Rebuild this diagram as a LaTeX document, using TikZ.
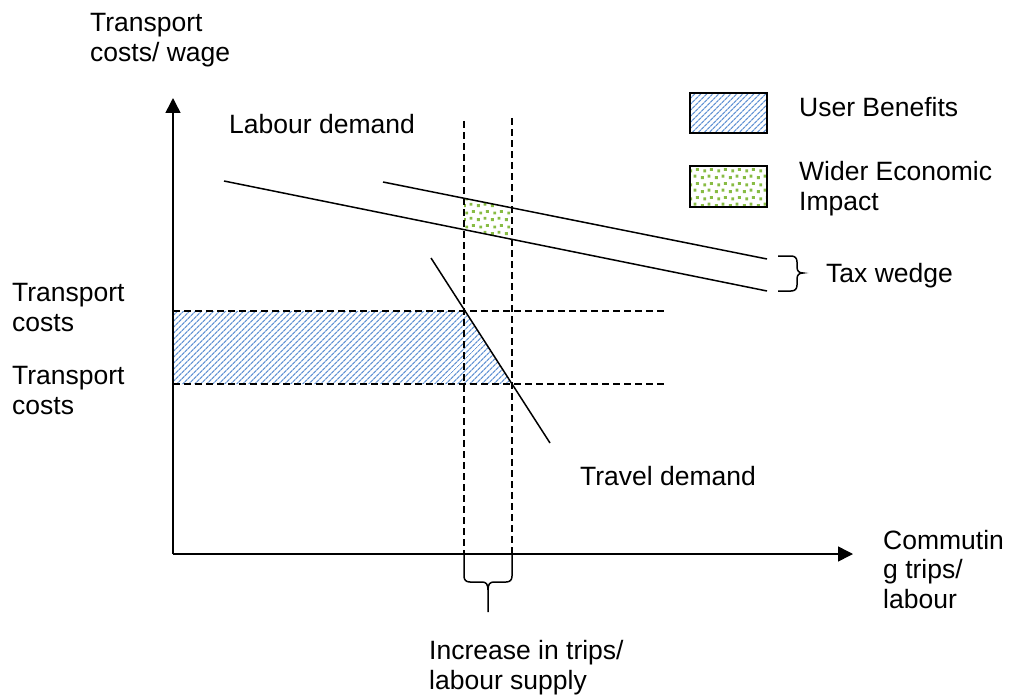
\documentclass[tikz,border=0pt]{standalone}
\usepackage{fontspec}
\setmainfont{Liberation Sans}
\usetikzlibrary{arrows.meta,patterns.meta}

\definecolor{hatchblue}{RGB}{100,148,212}
\definecolor{dotgreen}{RGB}{136,188,68}

% speckled fill for the wider economic impact area
\pgfdeclarepattern{
  name=greendots,
  type=uncolored,
  bottom left={\pgfpoint{0pt}{0pt}},
  top right={\pgfpoint{14pt}{14pt}},
  tile size={\pgfpoint{14pt}{14pt}},
  code={
    \pgfpathrectangle{\pgfpoint{1pt}{1pt}}{\pgfpoint{3pt}{3pt}}
    \pgfpathrectangle{\pgfpoint{8pt}{2.5pt}}{\pgfpoint{3pt}{3pt}}
    \pgfpathrectangle{\pgfpoint{3.5pt}{8pt}}{\pgfpoint{3pt}{3pt}}
    \pgfpathrectangle{\pgfpoint{10.5pt}{9.5pt}}{\pgfpoint{3pt}{3pt}}
    \pgfusepath{fill}
  }
}

\tikzset{
  lbl/.style={inner sep=0pt, anchor=base west, align=left,
    font=\fontsize{26.5}{29.5}\selectfont},
  curve/.style={line width=1.5pt},
  axis/.style={line width=1.5pt, -{Triangle[length=15pt,width=15pt]}},
  guide/.style={line width=1.3pt, dash pattern=on 7pt off 4pt},
  userben/.style={pattern={Lines[angle=45,distance=4pt,line width=1.3pt]},
    pattern color=hatchblue},
  wider/.style={pattern=greendots, pattern color=dotgreen},
  keybox/.style={line width=1.5pt},
  brace/.style={line width=1.5pt},
}

\begin{document}
\begin{tikzpicture}[x=1pt,y=-1pt]
\useasboundingbox (0,0) rectangle (1011,698);

% key points
\coordinate (O) at (173,554);
\coordinate (ytip) at (173,98);
\coordinate (xtip) at (853,554);
\coordinate (ldA) at (224,181);
\coordinate (ldB) at (767,291);
\coordinate (lsA) at (383,182);
\coordinate (lsB) at (767,259);
\coordinate (tdA) at (431,258);
\coordinate (tdB) at (550,443);
\coordinate (v1top) at (464,121);
\coordinate (v1bot) at (464,554);
\coordinate (v2top) at (512,118);
\coordinate (v2bot) at (512,554);
\coordinate (h1a) at (173,311);
\coordinate (h1b) at (665,311);
\coordinate (h2a) at (173,384);
\coordinate (h2b) at (665,384);

% shaded areas
\fill[userben] (173,311) -- (465,311) -- (512,384) -- (173,384) -- cycle;
\fill[wider] (464,198.2) -- (512,207.8) -- (512,239.3) -- (464,229.6) -- cycle;

% guide lines
\draw[guide] (v1top) -- (v1bot);
\draw[guide] (v2top) -- (v2bot);
\draw[guide] (h1a) -- (h1b);
\draw[guide] (h2a) -- (h2b);

% demand curves
\draw[curve] (ldA) -- (ldB);
\draw[curve] (lsA) -- (lsB);
\draw[curve] (tdA) -- (tdB);

% axes
\draw[axis] (O) -- (ytip);
\draw[axis] (O) -- (xtip);

% tax wedge brace
\draw[brace] (778,256) -- (791,256) .. controls (795,256) and (797,258) .. (797,262)
  -- (797,267) .. controls (797,271) and (799,273) .. (803,273)
  .. controls (799,273) and (797,275) .. (797,279) -- (797,285)
  .. controls (797,289) and (795,291) .. (791,291) -- (778,291);

% brace under the axis
\draw[brace] (v1bot) -- (464,576) .. controls (464,580) and (466,582) .. (470,582)
  -- (482,582) .. controls (486,582) and (488,584) .. (488,590) -- (488,612);
\draw[brace] (v2bot) -- (512,576) .. controls (512,580) and (510,582) .. (506,582)
  -- (494,582) .. controls (490,582) and (488,584) .. (488,590);

% key
\draw[keybox, userben] (690,93) rectangle (767,133);
\draw[keybox, wider] (690,166) rectangle (767,207);

% labels (multi-line labels sit on the baseline of their last line)
\node[lbl] (yl) at (90,61.5) {Transport\\costs/ wage};
\node[lbl] (ld) at (229,133) {Labour demand};
\node[lbl] (ub) at (799,117) {User Benefits};
\node[lbl] (we) at (799,210) {Wider Economic\\Impact};
\node[lbl] (tw) at (826,282) {Tax wedge};
\node[lbl] (tc1) at (12,331) {Transport\\costs};
\node[lbl] (tc2) at (12,414) {Transport\\costs};
\node[lbl] (td) at (580,485) {Travel demand};
\node[lbl] (xl) at (883,608) {Commutin\\g trips/\\labour};
\node[lbl] (inc) at (429,689) {Increase in trips/\\labour supply};
\end{tikzpicture}
\end{document}
